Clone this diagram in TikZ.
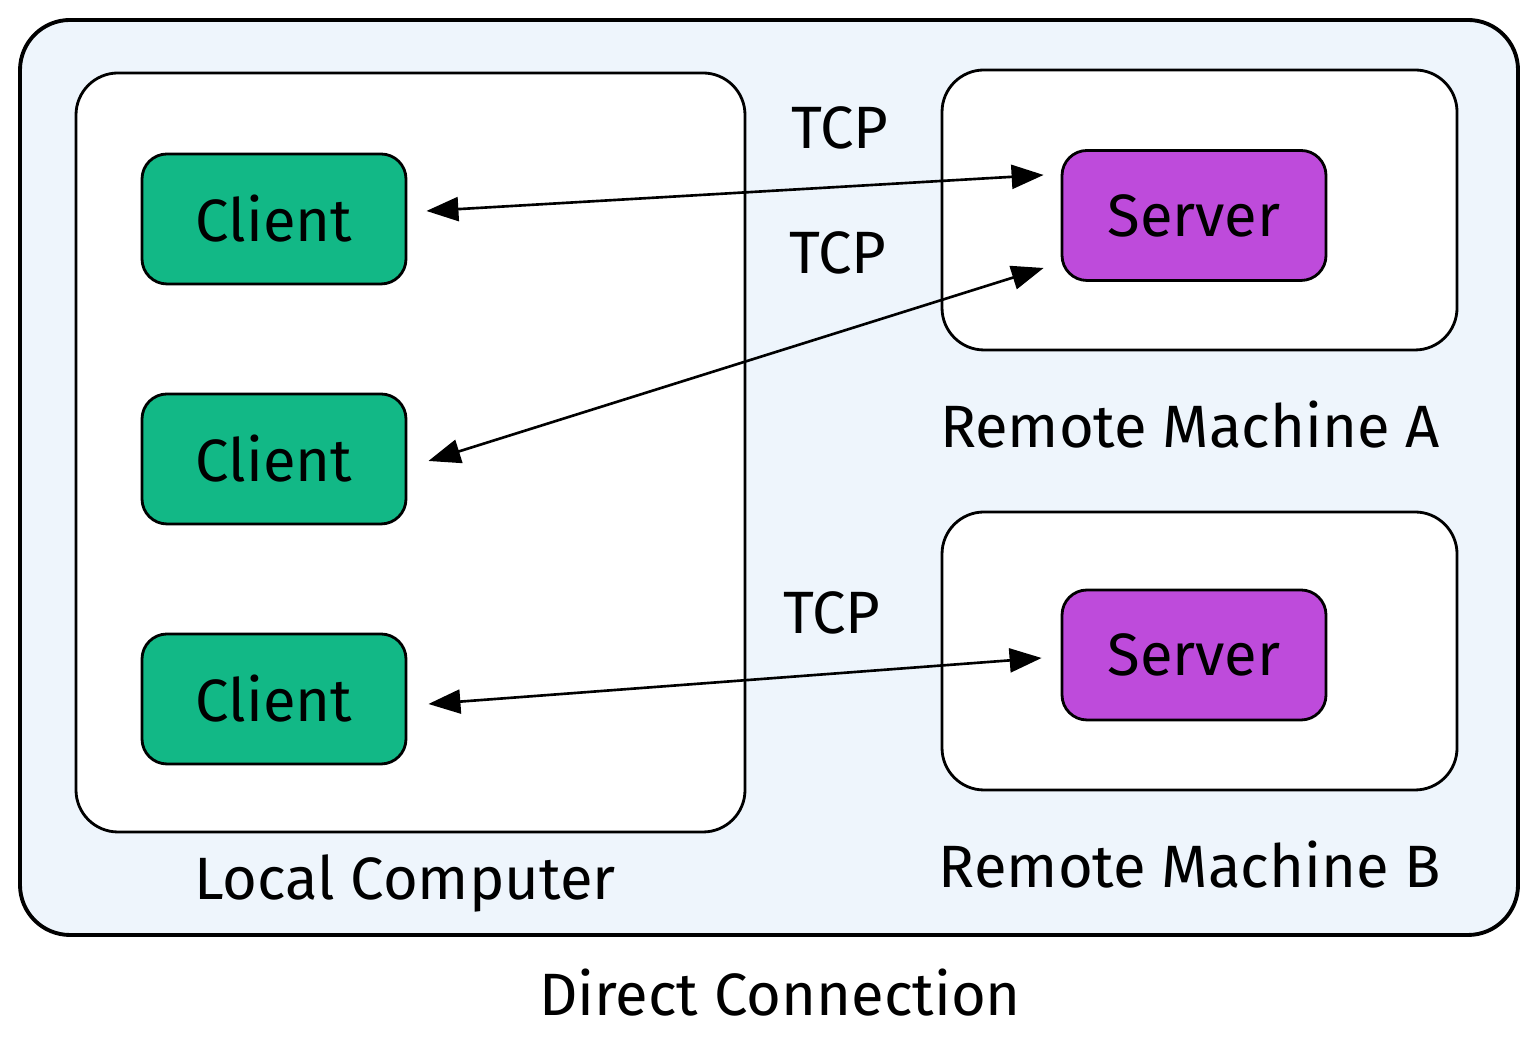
\documentclass[tikz,border=0pt]{standalone}
\usepackage{fontspec}
\setmainfont{Fira Sans}
\usepackage{tikz}
\usetikzlibrary{arrows.meta}
\definecolor{clientgreen}{HTML}{12B886}
\definecolor{serverpurple}{HTML}{BE4BDB}
\definecolor{panelblue}{HTML}{EEF5FC}
\tikzset{
  hand/.style={font=\fontsize{17}{20}\selectfont},
  machine/.style={draw=black, line width=0.8pt, fill=white, rounded corners=0.42cm},
  proc/.style={draw=black, line width=0.8pt, rounded corners=0.25cm,
    minimum width=2.64cm, minimum height=1.30cm, inner sep=0pt, hand},
  link/.style={line width=0.75pt, {Triangle[length=0.32cm,width=0.24cm]}-{Triangle[length=0.32cm,width=0.24cm]}}
}

\begin{document}
\begin{tikzpicture}
\useasboundingbox (0,0) rectangle (15.37,10.52);
% panels
\draw[fill=panelblue, line width=1.1pt, rounded corners=0.5cm] (0.20,1.17) rectangle (15.18,10.32);
\draw[machine] (0.76,2.20) rectangle (7.45,9.79);
\draw[machine] (9.42,7.02) rectangle (14.57,9.82);
\draw[machine] (9.42,2.62) rectangle (14.57,5.40);
% processes
\node[proc, fill=clientgreen] (client1) at (2.74,8.33) {Client};
\node[proc, fill=clientgreen] (client2) at (2.74,5.93) {Client};
\node[proc, fill=clientgreen] (client3) at (2.74,3.53) {Client};
\node[proc, fill=serverpurple] (server1) at (11.94,8.365) {Server};
\node[proc, fill=serverpurple] (server2) at (11.94,3.97) {Server};
% connections
\draw[link] ([shift={(0.19,0.08)}]client1.east) -- ([shift={(-0.17,0.405)}]server1.west);
\draw[link] ([shift={(0.21,-0.02)}]client2.east) -- ([shift={(-0.17,-0.525)}]server1.west);
\draw[link] ([shift={(0.21,-0.05)}]client3.east) -- ([shift={(-0.19,-0.03)}]server2.west);
\node[hand] (tcp1) at (8.40,9.24) {TCP};
\node[hand] (tcp2) at (8.38,7.99) {TCP};
\node[hand] (tcp3) at (8.32,4.39) {TCP};
% captions
\node[hand] (remoteA) at (11.90,6.27) {Remote Machine A};
\node[hand] (remoteB) at (11.90,1.87) {Remote Machine B};
\node[hand] (local) at (4.05,1.69) {Local Computer};
\node[hand] (title) at (7.80,0.59) {Direct Connection};
\end{tikzpicture}
\end{document}
